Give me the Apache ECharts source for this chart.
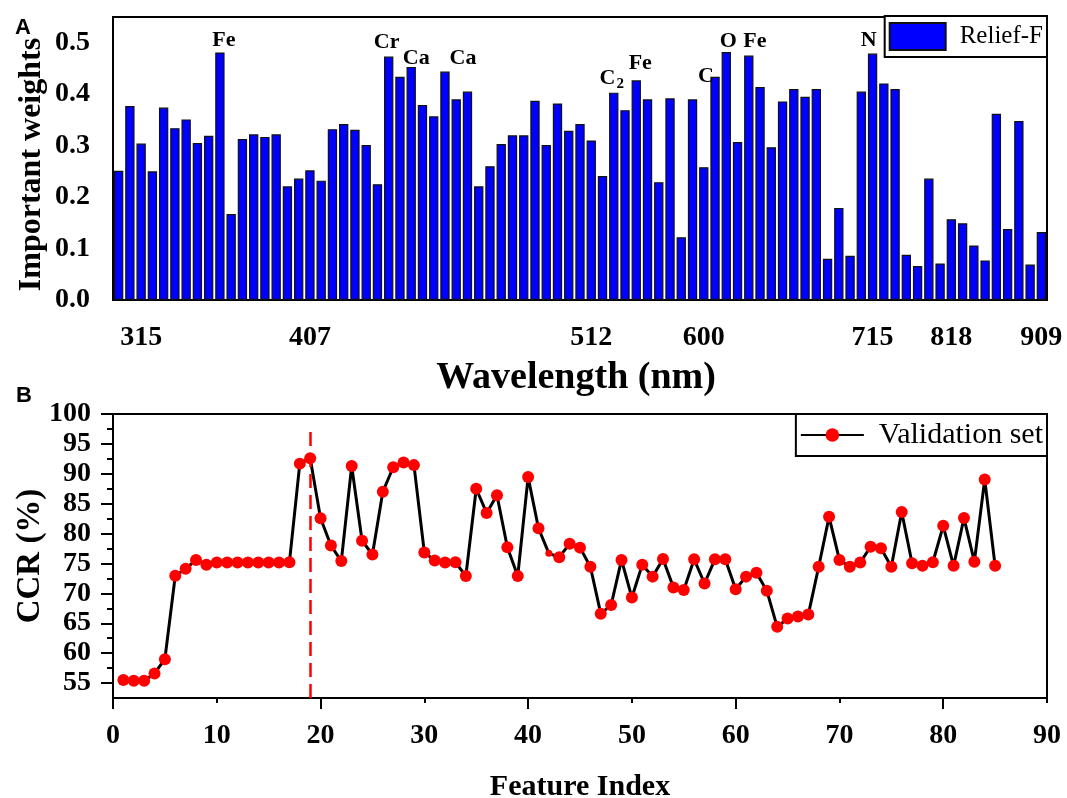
<!DOCTYPE html>
<html>
<head>
<meta charset="utf-8">
<script src="https://cdn.jsdelivr.net/npm/echarts@6/dist/echarts.min.js"></script>
<style>
  html, body { margin: 0; padding: 0; background: #fff; }
  #main { width: 1067px; height: 798px; }
</style>
</head>
<body>
<div id="main"></div>
<script>
// panel A: Relief-F weight of each spectral band
var weights = [
  0.251, 0.377, 0.304, 0.250, 0.374, 0.334, 0.351, 0.305, 0.319, 0.481,
  0.167, 0.313, 0.322, 0.317, 0.322, 0.221, 0.236, 0.252, 0.232, 0.332,
  0.342, 0.331, 0.301, 0.225, 0.473, 0.434, 0.453, 0.379, 0.357, 0.444,
  0.390, 0.405, 0.221, 0.260, 0.303, 0.320, 0.320, 0.387, 0.301, 0.382,
  0.329, 0.342, 0.310, 0.241, 0.403, 0.369, 0.427, 0.390, 0.229, 0.392,
  0.122, 0.390, 0.258, 0.434, 0.482, 0.307, 0.475, 0.414, 0.297, 0.386,
  0.410, 0.395, 0.410, 0.080, 0.179, 0.086, 0.405, 0.479, 0.421, 0.410,
  0.088, 0.066, 0.236, 0.071, 0.157, 0.149, 0.106, 0.077, 0.362, 0.138,
  0.348, 0.069, 0.132
];
var bands = weights.map(function (v, i) { return String(i + 1); });

// wavelength ticks (bar index -> label)
var tickIdx = [2, 17, 42, 52, 67, 74, 82];
var tickLabels = ["315", "407", "512", "600", "715", "818", "909"];
var minorIdx = [7, 31, 48, 63, 72, 79];

// element lines marked above bars
var peakIdx = [9, 24, 26, 29, 44, 46, 53, 54, 56, 67];
var peakNames = ["Fe", "Cr", "Ca", "Ca", "C2", "Fe", "C", "O", "Fe", "N"];

var yTicksA = [0, 0.1, 0.2, 0.3, 0.4, 0.5];
var yMinorA = [0.05, 0.15, 0.25, 0.35, 0.45];

// panel B: CCR of validation set vs number of features
var ccr = [
  55.5, 55.4, 55.4, 56.6, 59.0, 72.95, 74.1, 75.6, 74.8, 75.15,
  75.15, 75.15, 75.15, 75.15, 75.15, 75.15, 75.2, 91.7, 92.6, 82.55,
  78.0, 75.4, 91.3, 78.8, 76.5, 87.0, 91.1, 91.9, 91.45, 76.85,
  75.5, 75.15, 75.2, 72.9, 87.5, 83.45, 86.4, 77.7, 72.9, 89.45,
  80.9, 76.7, 76.05, 78.3, 77.65, 74.45, 66.6, 68.05, 75.6, 69.3,
  74.8, 72.8, 75.75, 71.0, 70.55, 75.7, 71.65, 75.7, 75.7, 70.7,
  72.8, 73.45, 70.45, 64.4, 65.8, 66.15, 66.45, 74.45, 82.8, 75.6,
  74.45, 75.15, 77.8, 77.55, 74.45, 83.6, 75.05, 74.6, 75.2, 81.3,
  74.6, 82.6, 75.3, 89.05, 74.6
];
var bestK = 19;
var yTicksB = [55, 60, 65, 70, 75, 80, 85, 90, 95, 100];
var yMinorB = [57.5, 62.5, 67.5, 72.5, 77.5, 82.5, 87.5, 92.5, 97.5];
var xMajorB = [0, 20, 40, 60, 80];

var serif = "'Liberation Serif', 'Times New Roman', serif";
// label nudges for the element names
var peakOffsets = [[4, 4], [-2, 2], [5, 7], [18, 3], [-2, 4], [4, -1], [-9, 16], [2, 5], [6, 2], [-4, 3]];

var barData = weights.map(function (v, i) {
  var k = peakIdx.indexOf(i);
  if (k < 0) return v;
  var txt = peakNames[k] === "C2" ? "{a|C}{s|2}" : "{a|" + peakNames[k] + "}";
  return {
    value: v,
    label: { show: true, position: "top", distance: 5, offset: peakOffsets[k], formatter: txt }
  };
});
var lineData = ccr.map(function (v, i) {
  if (i + 1 === 42) return { value: [i + 1, v], symbolSize: 7 };
  return [i + 1, v];
});

var myChart = echarts.init(document.getElementById("main"));
var axisLine = { show: true, lineStyle: { color: "#000", width: 2 } };
var tickFont = { color: "#000", fontFamily: serif, fontWeight: "bold", fontSize: 28 };

var option = {
  animation: false,
  backgroundColor: "#fff",
  graphic: [
    { type: "text", left: 15, top: 17, style: { text: "A", font: "bold 22px 'Liberation Sans', Arial, sans-serif", fill: "#000" } },
    { type: "text", left: 16, top: 385, style: { text: "B", font: "bold 22px 'Liberation Sans', Arial, sans-serif", fill: "#000" } }
  ],
  legend: [
    {
      data: [{ name: "Relief-F", icon: "rect" }], right: 20, top: 16, orient: "vertical",
      itemWidth: 56, itemHeight: 27, padding: [6, 4, 6, 4],
      borderColor: "#000", borderWidth: 2, backgroundColor: "#fff",
      textStyle: { fontFamily: serif, fontSize: 25, color: "#000", padding: [0, 0, 0, 9] }
    },
    {
      data: ["Validation set"], right: 20, top: 414, orient: "vertical",
      itemWidth: 63, itemHeight: 17, padding: [6, 4, 6, 4],
      borderColor: "#000", borderWidth: 2, backgroundColor: "#fff",
      textStyle: { fontFamily: serif, fontSize: 30, color: "#000", padding: [0, 0, 0, 10] }
    }
  ],
  grid: [
    { left: 113, top: 17, width: 934, height: 283, outerBoundsMode: "none", show: true, borderColor: "#000", borderWidth: 2 },
    { left: 113, top: 414, width: 934, height: 284, outerBoundsMode: "none", show: true, borderColor: "#000", borderWidth: 2 }
  ],
  xAxis: [
    {
      gridIndex: 0, type: "category", position: "bottom", data: bands,
      axisLine: axisLine,
      axisTick: {
        alignWithLabel: true, length: 12, lineStyle: { color: "#000", width: 2 },
        interval: function (i) { return tickIdx.indexOf(i) >= 0; }
      },
      axisLabel: Object.assign({
        margin: 24,
        interval: function (i) { return tickIdx.indexOf(i) >= 0; },
        formatter: function (v, i) { var k = tickIdx.indexOf(i); return k >= 0 ? tickLabels[k] : ""; }
      }, tickFont),
      name: "Wavelength (nm)", nameLocation: "middle", nameGap: 59, nameMoveOverlap: false,
      nameTextStyle: { color: "#000", fontFamily: serif, fontWeight: "bold", fontSize: 38, padding: [0, 8, 0, 0] }
    },
    {
      gridIndex: 0, type: "category", position: "bottom", data: bands,
      axisLine: { show: false },
      axisTick: {
        alignWithLabel: true, length: 5, lineStyle: { color: "#000", width: 2 },
        interval: function (i) { return minorIdx.indexOf(i) >= 0; }
      },
      axisLabel: { show: false }
    },
    {
      gridIndex: 1, type: "value", position: "bottom", min: 0, max: 90, interval: 10,
      axisLine: axisLine,
      axisTick: { length: 5, lineStyle: { color: "#000", width: 2 } },
      axisLabel: Object.assign({ margin: 24 }, tickFont),
      splitLine: { show: false },
      name: "Feature Index", nameLocation: "middle", nameGap: 74, nameMoveOverlap: false,
      nameTextStyle: { color: "#000", fontFamily: serif, fontWeight: "bold", fontSize: 30 }
    },
    {
      gridIndex: 1, type: "value", position: "bottom", min: 0, max: 90,
      axisLine: { show: false },
      axisTick: { customValues: xMajorB, length: 11, lineStyle: { color: "#000", width: 2 } },
      axisLabel: { show: false },
      splitLine: { show: false }
    }
  ],
  yAxis: [
    {
      gridIndex: 0, type: "value", position: "left", min: 0, max: 0.55,
      axisLine: axisLine,
      axisTick: { customValues: yTicksA, length: 12, lineStyle: { color: "#000", width: 2 } },
      axisLabel: Object.assign({
        customValues: yTicksA, margin: 23,
        formatter: function (v) { return v.toFixed(1); }
      }, tickFont),
      splitLine: { show: false },
      name: "Important weights", nameLocation: "middle", nameGap: 65, nameMoveOverlap: false,
      nameTextStyle: { color: "#000", fontFamily: serif, fontWeight: "bold", fontSize: 32, padding: [0, 12, 0, 0] }
    },
    {
      gridIndex: 0, type: "value", position: "left", min: 0, max: 0.55,
      axisLine: { show: false },
      axisTick: { customValues: yMinorA, length: 6, lineStyle: { color: "#000", width: 2 } },
      axisLabel: { show: false },
      splitLine: { show: false }
    },
    {
      gridIndex: 1, type: "value", position: "left", min: 52.5, max: 100,
      axisLine: axisLine,
      axisTick: { customValues: yTicksB, length: 12, lineStyle: { color: "#000", width: 2 } },
      axisLabel: Object.assign({ customValues: yTicksB, margin: 22 }, tickFont),
      splitLine: { show: false },
      name: "CCR (%)", nameLocation: "middle", nameGap: 66, nameMoveOverlap: false,
      nameTextStyle: { color: "#000", fontFamily: serif, fontWeight: "bold", fontSize: 33 }
    },
    {
      gridIndex: 1, type: "value", position: "left", min: 52.5, max: 100,
      axisLine: { show: false },
      axisTick: { customValues: yMinorB, length: 6, lineStyle: { color: "#000", width: 2 } },
      axisLabel: { show: false },
      splitLine: { show: false }
    }
  ],
  series: [
    {
      name: "Relief-F", type: "bar", xAxisIndex: 0, yAxisIndex: 0,
      barCategoryGap: "17%",
      itemStyle: { color: "#0000FF", borderColor: "#111", borderWidth: 1.2 },
      label: {
        color: "#000",
        rich: {
          a: { fontFamily: serif, fontWeight: "bold", fontSize: 22, color: "#000" },
          s: { fontFamily: serif, fontWeight: "bold", fontSize: 15, color: "#000", padding: [12, 0, 0, 1] }
        }
      },
      data: barData
    },
    {
      name: "Validation set", type: "line", xAxisIndex: 2, yAxisIndex: 2,
      symbol: "circle", symbolSize: 12,
      itemStyle: { color: "#FF0000" },
      lineStyle: { color: "#000", width: 3 },
      data: lineData,
      markLine: {
        silent: true, symbol: "none", label: { show: false },
        lineStyle: { color: "#FF0000", width: 2.5, type: [14, 7] },
        data: [[{ coord: [bestK, 52.5] }, { coord: [bestK, 97.5] }]]
      }
    }
  ]
};
myChart.setOption(option);
window.addEventListener("resize", function () { myChart.resize(); });
</script>
</body>
</html>
